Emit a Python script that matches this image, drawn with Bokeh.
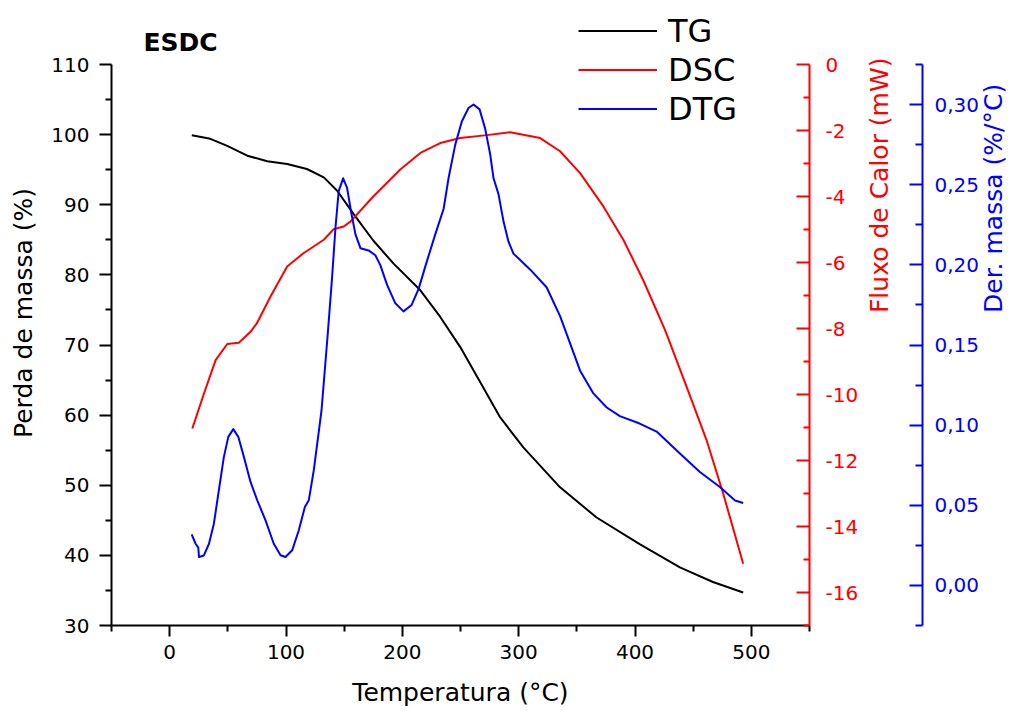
import math
from bokeh.plotting import figure
from bokeh.models import Range1d, LinearAxis, FixedTicker, Legend, LegendItem, Label
from bokeh.embed import file_html
from bokeh.resources import INLINE

# ---- data ----
temp_tg = [19, 35, 49.5, 66.7, 83.9, 101, 118, 132.5, 144, 158, 175, 192.5, 215.5,
           232.6, 249.8, 267, 284, 304, 335.6, 367, 404, 438.6, 467, 493]
tg = [99.9, 99.4, 98.4, 97.0, 96.2, 95.8, 95.1, 93.9, 92.0, 88.7, 84.9, 81.6, 77.8,
      74.0, 69.7, 64.7, 59.7, 55.4, 49.7, 45.4, 41.6, 38.3, 36.2, 34.7]

temp_dsc = [19.5, 29.5, 39.5, 49.5, 59.5, 69.5, 75, 86.7, 101, 115, 132.5, 141, 149.6,
            155.4, 175, 198, 215.5, 232.6, 249.8, 272.7, 292.7, 318.5, 335.6, 352.8,
            372.8, 390, 407, 425.8, 444.4, 461.5, 475.8, 493]
dsc = [-11.03, -9.97, -8.96, -8.47, -8.43, -8.1, -7.84, -7.03, -6.12, -5.72, -5.31,
       -4.99, -4.91, -4.76, -4.0, -3.19, -2.68, -2.38, -2.23, -2.14, -2.05, -2.23,
       -2.63, -3.29, -4.3, -5.31, -6.53, -8.04, -9.77, -11.38, -13.0, -15.13]

temp_dtg = [18.9, 22.3, 24.6, 25.2, 29.4, 33.8, 38, 42.3, 46.6, 50.4, 54.7, 59, 63.8,
            69.5, 75.3, 82.4, 89.5, 95.3, 99.6, 105.3, 111, 116.2, 119.6, 123.9, 127.6,
            130.5, 135.9, 139.6, 142.5, 145.3, 149.1, 152.5, 156, 159.7, 164, 171,
            176.8, 181, 186.9, 194, 201, 208, 214, 221, 228.3, 235.5, 239.7, 245.5,
            251.2, 257, 261.2, 266.4, 271.2, 275.5, 278.4, 282.7, 287, 291.2, 295.5,
            301.3, 310, 324, 335.6, 345.7, 352.8, 364, 375.7, 387, 404, 418.6, 438.6,
            455.8, 473, 486, 493]
dtg = [0.0319, 0.026, 0.0236, 0.0177, 0.0187, 0.026, 0.0385, 0.0594, 0.0802, 0.0927,
       0.0975, 0.0927, 0.0802, 0.0646, 0.0531, 0.0406, 0.026, 0.0188, 0.0177, 0.0219,
       0.0344, 0.0489, 0.0531, 0.0719, 0.0927, 0.109, 0.157, 0.192, 0.223, 0.246,
       0.254, 0.248, 0.233, 0.219, 0.2104, 0.209, 0.206, 0.200, 0.1875, 0.176, 0.171,
       0.175, 0.185, 0.202, 0.219, 0.235, 0.254, 0.275, 0.2896, 0.298, 0.300, 0.297,
       0.285, 0.269, 0.254, 0.244, 0.227, 0.2146, 0.207, 0.203, 0.197, 0.186, 0.168,
       0.148, 0.134, 0.120, 0.111, 0.1056, 0.101, 0.096, 0.0823, 0.0708, 0.0614,
       0.053, 0.0514]

x_ticks = [0, 100, 200, 300, 400, 500]
x_minor = [-50, 50, 150, 250, 350, 450, 550]
tg_ticks = [30, 40, 50, 60, 70, 80, 90, 100, 110]
tg_minor = [35, 45, 55, 65, 75, 85, 95, 105]
dsc_ticks = [0, -2, -4, -6, -8, -10, -12, -14, -16]
dsc_tick_labels = ["0", "-2", "-4", "-6", "-8", "-10", "-12", "-14", "-16"]
dsc_minor = [-17, -15, -13, -11, -9, -7, -5, -3, -1]
dtg_ticks = [0, 0.05, 0.1, 0.15, 0.2, 0.25, 0.3]
dtg_tick_labels = ["0,00", "0,05", "0,10", "0,15", "0,20", "0,25", "0,30"]
dtg_minor = [-0.025, 0.025, 0.075, 0.125, 0.175, 0.225, 0.275, 0.325]

x_bounds = (-50, 550)
tg_bounds = (30, 110)
dsc_bounds = (-17, 0)
dtg_bounds = (-0.025, 0.325)

FONT = "DejaVu Sans"
RED = "#ff0000"
BLUE = "#0000ff"

# layout (pixels): the frame reaches the top of the canvas so that the legend and
# the title can sit above the axes; the axes themselves are limited with bounds.
W, H = 1025, 709
AX_TOP, AX_BOTTOM = 64, 625
FRAME_LEFT, FRAME_RIGHT = 111, 810
frame_h = AX_BOTTOM
axis_h = AX_BOTTOM - AX_TOP


def ext_range(b):
    lo, hi = b
    return Range1d(lo, hi + (hi - lo) * AX_TOP / axis_h)


p = figure(width=W, height=H, output_backend="svg", toolbar_location=None, title=None,
           x_range=Range1d(*x_bounds), y_range=ext_range(tg_bounds),
           min_border_left=FRAME_LEFT, min_border_right=W - FRAME_RIGHT,
           min_border_top=0, min_border_bottom=H - AX_BOTTOM)
p.extra_y_ranges = {"dsc": ext_range(dsc_bounds), "dtg": ext_range(dtg_bounds)}
p.grid.visible = False
p.outline_line_color = None
p.background_fill_color = "white"
p.border_fill_color = "white"


def style_axis(ax, color, tick_in, tick_out, minor_in, minor_out):
    ax.axis_line_color = color
    ax.axis_line_width = 2
    ax.major_tick_line_color = color
    ax.minor_tick_line_color = color
    ax.major_tick_line_width = 2
    ax.minor_tick_line_width = 2
    ax.major_tick_in = tick_in
    ax.major_tick_out = tick_out
    ax.minor_tick_in = minor_in
    ax.minor_tick_out = minor_out
    ax.major_label_text_color = color
    ax.major_label_text_font = FONT
    ax.major_label_text_font_size = "20px"
    ax.axis_label_text_color = color
    ax.axis_label_text_font = FONT
    ax.axis_label_text_font_size = "25px"
    ax.axis_label_text_font_style = "normal"


xa = p.xaxis[0]
xa.ticker = FixedTicker(ticks=x_ticks, minor_ticks=x_minor)
xa.axis_label = "Temperatura (°C)"
style_axis(xa, "black", 0, 11, 0, 6)
xa.major_label_standoff = 8
xa.axis_label_standoff = 16

ya = p.yaxis[0]
ya.ticker = FixedTicker(ticks=tg_ticks, minor_ticks=tg_minor)
ya.bounds = tg_bounds
ya.axis_label = "Perda de massa (%)"
style_axis(ya, "black", 0, 12, 0, 6)
ya.major_label_standoff = 10
ya.axis_label_standoff = 10

red_ax = LinearAxis(y_range_name="dsc", axis_label="Fluxo de Calor (mW)",
                    ticker=FixedTicker(ticks=dsc_ticks, minor_ticks=dsc_minor),
                    major_label_overrides=dict(zip(dsc_ticks, dsc_tick_labels)),
                    bounds=dsc_bounds)
style_axis(red_ax, RED, 13, 0, 6, 0)
red_ax.major_label_standoff = 16
red_ax.axis_label_standoff = 18
red_ax.axis_label_orientation = math.pi / 2
p.add_layout(red_ax, "right")

# invisible gap between the red and the blue axis (one white tick in empty space)
gap_tick = [-16.5]
spacer = LinearAxis(y_range_name="dsc", ticker=FixedTicker(ticks=gap_tick, minor_ticks=[]),
                    major_label_overrides={-16.5: ""},
                    axis_line_color=None, major_tick_line_color="white",
                    major_tick_line_width=1, major_tick_in=0, major_tick_out=11,
                    minor_tick_in=0, minor_tick_out=0, major_label_standoff=0)
p.add_layout(spacer, "right")

blue_ax = LinearAxis(y_range_name="dtg", axis_label="Der. massa (%/°C)",
                     ticker=FixedTicker(ticks=dtg_ticks, minor_ticks=dtg_minor),
                     major_label_overrides=dict(zip(dtg_ticks, dtg_tick_labels)),
                     bounds=dtg_bounds)
style_axis(blue_ax, BLUE, 13, 0, 7, 0)
blue_ax.major_label_standoff = 12
blue_ax.axis_label_standoff = 11
blue_ax.axis_label_orientation = math.pi / 2
p.add_layout(blue_ax, "right")

r_tg = p.line(temp_tg, tg, line_color="black", line_width=2, line_join="round")
r_dsc = p.line(temp_dsc, dsc, line_color=RED, line_width=2, line_join="round",
               y_range_name="dsc")
r_dtg = p.line(temp_dtg, dtg, line_color=BLUE, line_width=2, line_join="round",
               y_range_name="dtg")

legend = Legend(items=[LegendItem(label="TG", renderers=[r_tg]),
                       LegendItem(label="DSC", renderers=[r_dsc]),
                       LegendItem(label="DTG", renderers=[r_dtg])],
                location=(578 - FRAME_LEFT, frame_h - 11 - 117), orientation="vertical",
                label_text_font=FONT, label_text_font_size="32px",
                label_text_color="black",
                glyph_width=79, glyph_height=39, label_height=39,
                label_standoff=11, spacing=0, padding=0, margin=0,
                border_line_color=None, background_fill_alpha=0)
p.add_layout(legend, "center")

title = Label(x=143 - FRAME_LEFT, y=frame_h - 42, x_units="screen", y_units="screen",
              text="ESDC", text_font=FONT, text_font_style="bold",
              text_font_size="25px", text_color="black", text_baseline="alphabetic")
p.add_layout(title)

open("out.html", "w").write(file_html(p, INLINE))
